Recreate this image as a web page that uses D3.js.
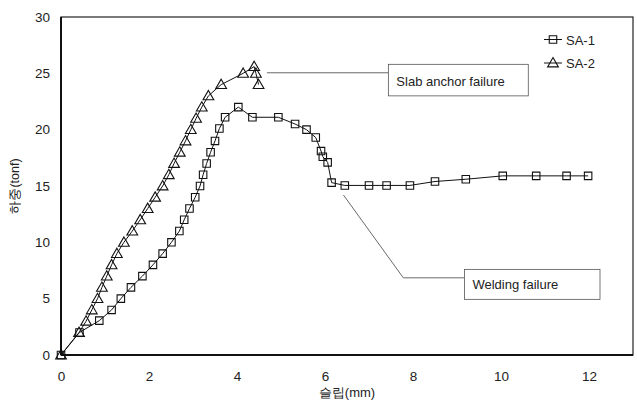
<!DOCTYPE html>
<html><head><meta charset="utf-8">
<script src="https://cdn.jsdelivr.net/npm/d3@7"></script>
<style>body{margin:0;background:#fff}svg{display:block}text{font-family:"Liberation Sans",Arial,sans-serif;fill:#222}</style>
</head><body><svg id="c" width="637" height="407"></svg>
<script>
const sa1X=[0,0.42,0.87,1.15,1.36,1.59,1.85,2.09,2.31,2.51,2.69,2.80,2.92,3.05,3.16,3.23,3.31,3.40,3.50,3.60,3.73,4.03,4.35,4.94,5.32,5.58,5.79,5.91,5.95,6.06,6.15,6.45,7.00,7.40,7.93,8.50,9.20,10.04,10.80,11.49,11.98];
const sa1Y=[0,2.0,3.05,4.0,5.0,6.0,7.0,8.0,9.0,10.0,11.0,12.0,13.0,14.0,15.0,16.0,17.0,18.0,19.0,20.1,21.1,22.0,21.1,21.1,20.5,20.0,19.3,18.1,17.6,17.1,15.3,15.05,15.05,15.05,15.05,15.4,15.6,15.9,15.9,15.9,15.9];
const sa2X=[0,0.41,0.57,0.70,0.83,0.93,1.04,1.15,1.27,1.43,1.62,1.80,1.97,2.14,2.31,2.45,2.57,2.70,2.83,2.95,3.07,3.20,3.35,3.64,4.14,4.39,4.43,4.49];
const sa2Y=[0,2.0,3.0,4.0,5.0,6.0,7.0,8.0,9.0,10.0,11.0,12.0,13.0,14.0,15.0,16.0,17.0,18.0,19.0,20.0,21.0,22.0,23.0,24.0,25.0,25.6,25.0,24.0];
const seriesNames=["SA-1","SA-2"];
const xTicks=[0,2,4,6,8,10,12];
const yTicks=[0,5,10,15,20,25,30];
const xLabel="슬립(mm)", yLabel="하중(tonf)";
const notes=["Slab anchor failure","Welding failure"];

const svg=d3.select("#c");
const x=d3.scaleLinear().domain([0,13]).range([61,633]);
const y=d3.scaleLinear().domain([0,30]).range([355,17]);

// frame
svg.append("rect").attr("x",x(0)).attr("y",y(30)).attr("width",x(13)-x(0)).attr("height",y(0)-y(30))
  .attr("fill","none").attr("stroke","#222").attr("stroke-width",1.2);
svg.append("line").attr("x1",x(0)).attr("x2",x(0)).attr("y1",y(30)).attr("y2",y(0)).attr("stroke","#111").attr("stroke-width",2);
svg.append("line").attr("x1",x(0)).attr("x2",x(13)).attr("y1",y(0)).attr("y2",y(0)).attr("stroke","#111").attr("stroke-width",2);

const xa=svg.append("g").attr("transform",`translate(0,${y(0)})`).call(d3.axisBottom(x).tickValues(xTicks).tickSize(0).tickPadding(16));
const ya=svg.append("g").attr("transform",`translate(${x(0)},0)`).call(d3.axisLeft(y).tickValues(yTicks).tickSize(0).tickPadding(11));
[xa,ya].forEach(g=>{g.select(".domain").remove();g.selectAll("text").attr("font-size",13.5).style("font-family","Liberation Sans, Arial, sans-serif").attr("fill","#222");});

svg.append("text").attr("x",347).attr("y",397).attr("text-anchor","middle").attr("font-size",13).text(xLabel);
svg.append("text").attr("transform",`translate(19,${(y(0)+y(30))/2}) rotate(-90)`).attr("text-anchor","middle").attr("font-size",12.5).text(yLabel);

const line=d3.line().x(d=>x(d[0])).y(d=>y(d[1]));
const s1=sa1X.map((v,i)=>[v,sa1Y[i]]), s2=sa2X.map((v,i)=>[v,sa2Y[i]]);
svg.append("path").attr("d",line(s1)).attr("fill","none").attr("stroke","#111").attr("stroke-width",1);
svg.append("path").attr("d",line(s2)).attr("fill","none").attr("stroke","#111").attr("stroke-width",1);
const sq=d3.symbol().type(d3.symbolSquare).size(56);
const tri=d3.symbol().type(d3.symbolTriangle).size(50);
svg.append("g").selectAll("path").data(s1).join("path").attr("d",sq)
  .attr("transform",d=>`translate(${x(d[0])},${y(d[1])})`).attr("fill","none").attr("stroke","#111").attr("stroke-width",1.1);
svg.append("g").selectAll("path").data(s2).join("path").attr("d",tri)
  .attr("transform",d=>`translate(${x(d[0])},${y(d[1])+0.8})`).attr("fill","none").attr("stroke","#111").attr("stroke-width",1.1);

// legend
const lg=[[sq,39.5],[tri,63]];
lg.forEach((l,i)=>{
  svg.append("line").attr("x1",544).attr("x2",562).attr("y1",l[1]).attr("y2",l[1]).attr("stroke","#111");
  svg.append("path").attr("d",l[0]).attr("transform",`translate(553,${l[1]+(i?0.8:0)})`).attr("fill","none").attr("stroke","#111").attr("stroke-width",1.1);
  svg.append("text").attr("x",566).attr("y",l[1]+5).attr("font-size",13).text(seriesNames[i]);
});

// annotations
svg.append("line").attr("x1",x(4.68)).attr("x2",x(7.44)).attr("y1",y(25.05)).attr("y2",y(25.05)).attr("stroke","#444").attr("stroke-width",0.8);
svg.append("rect").attr("x",x(7.44)).attr("y",y(25.8)).attr("width",x(10.62)-x(7.44)).attr("height",y(23.0)-y(25.8))
  .attr("fill","#fff").attr("stroke","#555").attr("stroke-width",0.8);
svg.append("text").attr("x",x(7.44)+8).attr("y",y(23.0)-10).attr("font-size",13).text(notes[0]);

svg.append("polyline").attr("points",[[x(6.42),y(14.2)],[x(7.78),y(6.85)],[x(9.17),y(6.85)]].map(p=>p.join(",")).join(" "))
  .attr("fill","none").attr("stroke","#444").attr("stroke-width",0.8);
svg.append("rect").attr("x",x(9.17)).attr("y",y(7.6)).attr("width",x(12.25)-x(9.17)).attr("height",y(4.94)-y(7.6))
  .attr("fill","#fff").attr("stroke","#555").attr("stroke-width",0.8);
svg.append("text").attr("x",x(9.17)+8).attr("y",y(4.94)-10).attr("font-size",13).text(notes[1]);
</script></body></html>
